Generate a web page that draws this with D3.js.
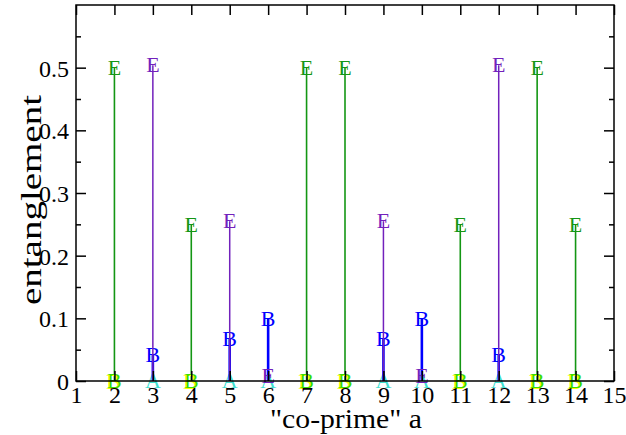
<!DOCTYPE html>
<html><head><meta charset="utf-8">
<script src="https://cdn.jsdelivr.net/npm/d3@7"></script>
<style>body{margin:0;background:#fff}svg{display:block}text{font-family:"Liberation Serif","Times New Roman",serif}</style>
</head><body><svg id="c" width="626" height="435"></svg>
<script>
const greenA = [2,4,7,8,11,13,14];
const greenE = [0.5,0.25,0.5,0.5,0.25,0.5,0.25];
const purpleA = [3,5,6,9,10,12];
const purpleE = [0.504,0.255,0.008,0.255,0.008,0.504];
const blueB = [0.042,0.067,0.1,0.067,0.1,0.042];
const xTicks = [1,2,3,4,5,6,7,8,9,10,11,12,13,14,15];
const yTicks = [0,0.1,0.2,0.3,0.4,0.5];
const yMinor = [0.05,0.15,0.25,0.35,0.45,0.55];

(function(){
const svg = d3.select("#c");
const L=76,R=614,T=5,B=381;
const x = d3.scaleLinear().domain([1,15]).range([L,R]);
const y = d3.scaleLinear().domain([0,0.6]).range([B,T]);
const fs=22;

function stems(xs, vs, color, w){
  svg.append("g").selectAll("line").data(xs).join("line")
    .attr("x1",d=>x(d)).attr("x2",d=>x(d)).attr("y1",y(0)).attr("y2",(d,i)=>y(vs[i]))
    .attr("stroke",color).attr("stroke-width",w);
}
function chars(xs, vs, ch, color, dx=0, dy=0){
  svg.append("g").selectAll("text").data(xs).join("text")
    .attr("x",d=>x(d)+dx).attr("y",(d,i)=>y(vs[i])+fs*0.33+dy)
    .attr("text-anchor","middle").attr("font-size",fs).attr("fill",color).text(ch);
}
const zeros6 = purpleA.map(()=>0), zeros7 = greenA.map(()=>0);

chars(purpleA, zeros6, "A", "rgb(64,224,208)");
stems(greenA, greenE, "rgb(20,150,20)", 1.6);
chars(greenA, greenE, "E", "rgb(20,150,20)");
stems(purpleA, blueB, "rgb(0,0,255)", 2.6);
chars(purpleA, blueB, "B", "rgb(0,0,255)");
stems(purpleA, purpleE, "rgb(114,33,188)", 1.5);
chars(purpleA, purpleE, "E", "rgb(114,33,188)");
chars(greenA, zeros7, "B", "rgb(255,255,0)", -1, 1);
chars(greenA, zeros7, "B", "rgb(60,220,0)");

const ax = svg.append("g");
ax.append("rect").attr("x",L).attr("y",T).attr("width",R-L).attr("height",B-T)
  .attr("fill","none").attr("stroke","#000").attr("stroke-width",1.5);
const gb = ax.append("g").attr("transform",`translate(0,${B})`)
  .call(d3.axisBottom(x).tickValues(xTicks).tickSize(-10).tickFormat(d3.format("d")));
const gt = ax.append("g").attr("transform",`translate(0,${T})`)
  .call(d3.axisTop(x).tickValues(xTicks).tickSize(-10).tickFormat(""));
const gl = ax.append("g").attr("transform",`translate(${L},0)`)
  .call(d3.axisLeft(y).tickValues(yTicks).tickSize(-10).tickFormat(d=>d===0?"0":d3.format(".1f")(d)));
const glm = ax.append("g").attr("transform",`translate(${L},0)`)
  .call(d3.axisLeft(y).tickValues(yMinor).tickSize(-5).tickFormat(""));
const gr = ax.append("g").attr("transform",`translate(${R},0)`)
  .call(d3.axisRight(y).tickValues(yTicks).tickSize(-10).tickFormat(""));
const grm = ax.append("g").attr("transform",`translate(${R},0)`)
  .call(d3.axisRight(y).tickValues(yMinor).tickSize(-5).tickFormat(""));
[gb,gt,gl,glm,gr,grm].forEach(g=>{
  g.select(".domain").remove();
  g.selectAll(".tick line").attr("stroke","#000").attr("stroke-width",1.5);
  g.selectAll("text").attr("font-size",24).attr("fill","#000").attr("font-family","Liberation Serif");
});
gb.selectAll("text").attr("y",22).attr("dy",0);
gl.selectAll("text").attr("x",-7).attr("dy","0.35em");

svg.append("text").attr("x",346).attr("y",428).attr("text-anchor","middle")
  .attr("font-size",27).attr("textLength",152).attr("lengthAdjust","spacingAndGlyphs").text('"co-prime" a');
svg.append("text").attr("transform",`translate(41,200) rotate(-90)`).attr("text-anchor","middle")
  .attr("font-size",30).attr("textLength",210).attr("lengthAdjust","spacingAndGlyphs").text("entanglement");
})();
</script></body></html>
